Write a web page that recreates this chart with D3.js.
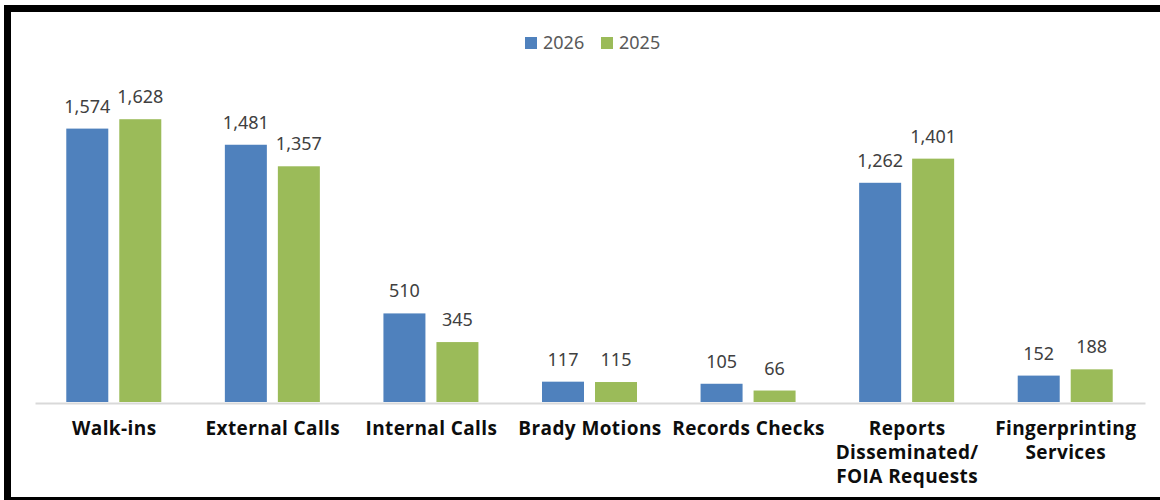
<!DOCTYPE html>
<html>
<head>
<meta charset="utf-8">
<script src="https://cdn.jsdelivr.net/npm/d3@7"></script>
<style>
  html, body { margin: 0; padding: 0; background: #fff; }
  svg { display: block; }
</style>
</head>
<body>
<svg id="chart" width="1160" height="500"></svg>
<script>
// Activity counts by category, current vs. prior year
const categories = [
  ["Walk-ins"],
  ["External Calls"],
  ["Internal Calls"],
  ["Brady Motions"],
  ["Records Checks"],
  ["Reports", "Disseminated/", "FOIA Requests"],
  ["Fingerprinting", "Services"]
];
const seriesNames = ["2026", "2025"];
const values2026 = [1574, 1481, 510, 117, 105, 1262, 152];
const values2025 = [1628, 1357, 345, 115, 66, 1401, 188];
const seriesColors = ["#4F81BD", "#9BBB59"];

const svg = d3.select("#chart");
const W = 1160, H = 500;

// Plot geometry
const plot = { left: 35, right: 1145, base: 402 };
const keys = categories.map((c, i) => i);

const x = d3.scaleBand().domain(keys).range([plot.left, plot.right]).paddingInner(0).paddingOuter(0);
const y = d3.scaleLinear().domain([0, 1800]).range([plot.base, plot.base - 1800 * 0.1737]);

// Bars within each band: two 42px bars with an 11px gap
const inner = d3.scaleBand().domain([0, 1]).range([-48, 47]).paddingInner(11 / 53).paddingOuter(0);

const series = [values2026, values2025];
const fmt = d3.format(",");

const gBars = svg.append("g");
series.forEach((vals, s) => {
  const g = gBars.append("g");
  g.selectAll("rect").data(vals).enter().append("rect")
    .attr("x", (d, i) => x(i) + x.bandwidth() / 2 + inner(s))
    .attr("y", d => y(d))
    .attr("width", inner.bandwidth())
    .attr("height", d => y(0) - y(d))
    .attr("fill", seriesColors[s]);
  g.selectAll("text").data(vals).enter().append("text")
    .attr("x", (d, i) => x(i) + x.bandwidth() / 2 + inner(s) + inner.bandwidth() / 2)
    .attr("y", d => y(d) - 16)
    .attr("text-anchor", "middle")
    .attr("font-family", "'Noto Sans', sans-serif")
    .attr("font-size", 18)
    .attr("fill", "#404040")
    .text(d => fmt(d));
});

// Category axis line
const xAxis = d3.axisBottom(x).tickSize(0).tickFormat("");
const axisG = svg.append("g").attr("transform", `translate(0,${plot.base + 1})`).call(xAxis);
axisG.select(".domain").attr("stroke", "#D9D9D9").attr("stroke-width", 2);

// Category labels (multi-line)
const labels = svg.append("g");
categories.forEach((lines, i) => {
  const t = labels.append("text")
    .attr("x", x(i) + x.bandwidth() / 2)
    .attr("y", 435)
    .attr("text-anchor", "middle")
    .attr("font-family", "'Open Sans', sans-serif")
    .attr("font-weight", "bold")
    .attr("font-size", 19)
    .attr("letter-spacing", 0.4)
    .attr("fill", "#0d0d0d");
  lines.forEach((ln, k) => {
    t.append("tspan").attr("x", x(i) + x.bandwidth() / 2).attr("dy", k === 0 ? 0 : 24).text(ln);
  });
});

// Legend
const legend = svg.append("g").attr("font-family", "'Noto Sans', sans-serif").attr("font-size", 18).attr("fill", "#595959");
const legendX = [525, 601];
seriesNames.forEach((name, s) => {
  legend.append("rect").attr("x", legendX[s]).attr("y", 37).attr("width", 12).attr("height", 12).attr("fill", seriesColors[s]);
  legend.append("text").attr("x", legendX[s] + 18).attr("y", 49).text(name);
});

// Outer frame
svg.append("rect")
  .attr("x", 7.5).attr("y", 8.5)
  .attr("width", W + 20).attr("height", 492)
  .attr("fill", "none")
  .attr("stroke", "#000")
  .attr("stroke-width", 7);
</script>
</body>
</html>
